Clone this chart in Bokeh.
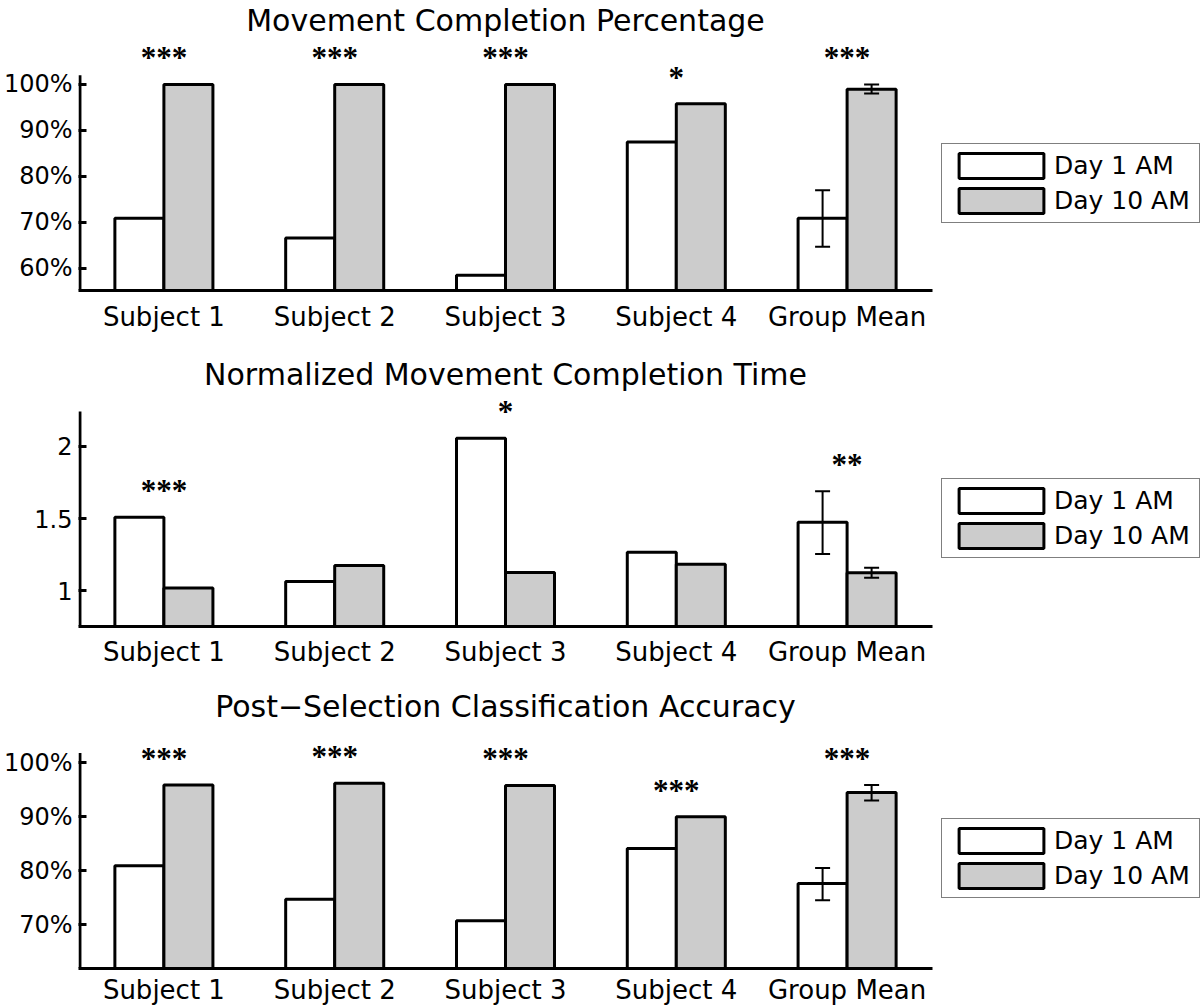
from bokeh.plotting import figure
from bokeh.models import (ColumnDataSource, FactorRange, Range1d, FixedTicker,
                          LabelSet, Whisker, TeeHead, Legend, LegendItem)
from bokeh.transform import dodge
from bokeh.layouts import column
from bokeh.embed import file_html
from bokeh.resources import INLINE

# ---------------- data ----------------
subjects = ["Subject 1", "Subject 2", "Subject 3", "Subject 4", "Group Mean"]
series_names = ["Day 1 AM", "Day 10 AM"]

# Panel 1: Movement Completion Percentage (%)
pct_day1 = [70.9, 66.6, 58.5, 87.5, 70.9]
pct_day10 = [100.0, 100.0, 100.0, 95.8, 98.95]
pct_err_day1 = [64.7, 77.0]      # group mean error bar (lower, upper)
pct_err_day10 = [98.0, 100.0]
pct_stars = ["***", "***", "***", "*", "***"]
pct_ticks = [60, 70, 80, 90, 100]
pct_tick_labels = ["60%", "70%", "80%", "90%", "100%"]

# Panel 2: Normalized Movement Completion Time
time_day1 = [1.51, 1.064, 2.057, 1.267, 1.475]
time_day10 = [1.02, 1.175, 1.127, 1.184, 1.126]
time_err_day1 = [1.255, 1.69]
time_err_day10 = [1.09, 1.16]
time_stars = ["***", "", "*", "", "**"]
time_ticks = [1, 1.5, 2]
time_tick_labels = ["1", "1.5", "2"]

# Panel 3: Post-Selection Classification Accuracy (%)
acc_day1 = [80.9, 74.7, 70.7, 84.1, 77.6]
acc_day10 = [95.9, 96.2, 95.8, 90.0, 94.5]
acc_err_day1 = [74.5, 80.5]
acc_err_day10 = [93.0, 95.9]
acc_stars = ["***", "***", "***", "***", "***"]
acc_ticks = [70, 80, 90, 100]
acc_tick_labels = ["70%", "80%", "90%", "100%"]

FONT = "DejaVu Sans"
GREY = "#cccccc"
BAR_W = 0.287


def make_panel(title, day1, day10, err1, err10, stars, y_lo, y_axis_top, y_hi,
               ticks, tick_labels, frame_h, bottom_border, xlabel_standoff, legend_y):
    p = figure(x_range=FactorRange(*subjects), y_range=Range1d(y_lo, y_hi),
               frame_width=854, frame_height=frame_h,
               min_border_left=75, min_border_right=265,
               min_border_top=36, min_border_bottom=bottom_border,
               toolbar_location=None, output_backend="svg", title=title)
    p.title.align = "center"
    p.title.text_font = FONT
    p.title.text_font_size = "30px"
    p.title.text_font_style = "normal"
    p.title.text_color = "black"
    p.title.standoff = 0

    star_y = [max(a, b) for a, b in zip(day1, day10)]
    star_y[-1] = max(star_y[-1], err1[1], err10[1])
    src = ColumnDataSource(dict(subject=subjects, day1=day1, day10=day10,
                                stars=stars, star_y=star_y))

    r1 = p.vbar(x=dodge("subject", -BAR_W / 2, range=p.x_range), top="day1", bottom=0,
                width=BAR_W, source=src, fill_color="white", line_color="black", line_width=3)
    r2 = p.vbar(x=dodge("subject", BAR_W / 2, range=p.x_range), top="day10", bottom=0,
                width=BAR_W, source=src, fill_color=GREY, line_color="black", line_width=3)

    for err, off in ((err1, -BAR_W / 2), (err10, BAR_W / 2)):
        esrc = ColumnDataSource(dict(subject=[subjects[-1]], lower=[err[0]], upper=[err[1]]))
        w = Whisker(base=dodge("subject", off, range=p.x_range), lower="lower", upper="upper",
                    source=esrc, line_color="black", line_width=2, level="overlay",
                    upper_head=TeeHead(size=15, line_width=2, line_color="black"),
                    lower_head=TeeHead(size=15, line_width=2, line_color="black"))
        p.add_layout(w)

    labels = LabelSet(x="subject", y="star_y", text="stars", source=src,
                      text_align="center", text_baseline="alphabetic", y_offset=16,
                      text_font=FONT, text_font_size="31px", text_font_style="bold",
                      text_color="black")
    p.add_layout(labels)

    # left axis line only up to the axes box top (stars sit above it)
    axsrc = ColumnDataSource(dict(subject=[subjects[0]], y0=[y_lo], y1=[y_axis_top]))
    p.segment(x0=dodge("subject", -0.4915, range=p.x_range), y0="y0",
              x1=dodge("subject", -0.4915, range=p.x_range), y1="y1",
              source=axsrc, line_color="black", line_width=3)

    legend = Legend(items=[LegendItem(label=series_names[0], renderers=[r1]),
                           LegendItem(label=series_names[1], renderers=[r2])],
                    location=(9, legend_y), orientation="vertical",
                    glyph_width=106, glyph_height=31, label_height=25, label_width=139,
                    label_standoff=0, spacing=4, padding=6, margin=0,
                    label_text_font=FONT, label_text_font_size="25px",
                    label_text_color="black",
                    border_line_color="black", border_line_width=1.5,
                    background_fill_color="white", background_fill_alpha=1.0)
    p.add_layout(legend, "right")

    p.xgrid.visible = False
    p.ygrid.visible = False
    p.outline_line_color = None

    p.xaxis.axis_line_width = 3
    p.xaxis.axis_line_color = "black"
    p.xaxis.major_tick_line_color = None
    p.xaxis.minor_tick_line_color = None
    p.xaxis.major_label_text_font = FONT
    p.xaxis.major_label_text_font_size = "26px"
    p.xaxis.major_label_text_color = "black"
    p.xaxis.major_label_standoff = xlabel_standoff

    p.yaxis.ticker = FixedTicker(ticks=ticks)
    p.yaxis.major_label_overrides = dict(zip(ticks, tick_labels))
    p.yaxis.axis_line_color = None
    p.yaxis.major_tick_in = 8
    p.yaxis.major_tick_out = 0
    p.yaxis.major_tick_line_width = 3
    p.yaxis.major_tick_line_color = "black"
    p.yaxis.minor_tick_line_color = None
    p.yaxis.major_label_text_font = FONT
    p.yaxis.major_label_text_font_size = "24px"
    p.yaxis.major_label_text_color = "black"
    p.yaxis.major_label_standoff = 6
    return p


p1 = make_panel("Movement Completion Percentage", pct_day1, pct_day10, pct_err_day1,
                pct_err_day10, pct_stars, 55.2, 102.0, 110.2, pct_ticks, pct_tick_labels,
                frame_h=253, bottom_border=64, xlabel_standoff=5, legend_y=67)
p2 = make_panel("Normalized Movement Completion Time", time_day1, time_day10, time_err_day1,
                time_err_day10, time_stars, 0.753, 2.243, 2.381, time_ticks, time_tick_labels,
                frame_h=235, bottom_border=60, xlabel_standoff=4, legend_y=68)
p3 = make_panel("Post\u2212Selection Classification Accuracy", acc_day1, acc_day10, acc_err_day1,
                acc_err_day10, acc_stars, 61.85, 101.85, 107.3, acc_ticks, acc_tick_labels,
                frame_h=245, bottom_border=35, xlabel_standoff=0, legend_y=70)

layout = column(p1, p2, p3, spacing=0)
open("out.html", "w").write(file_html(layout, INLINE))
